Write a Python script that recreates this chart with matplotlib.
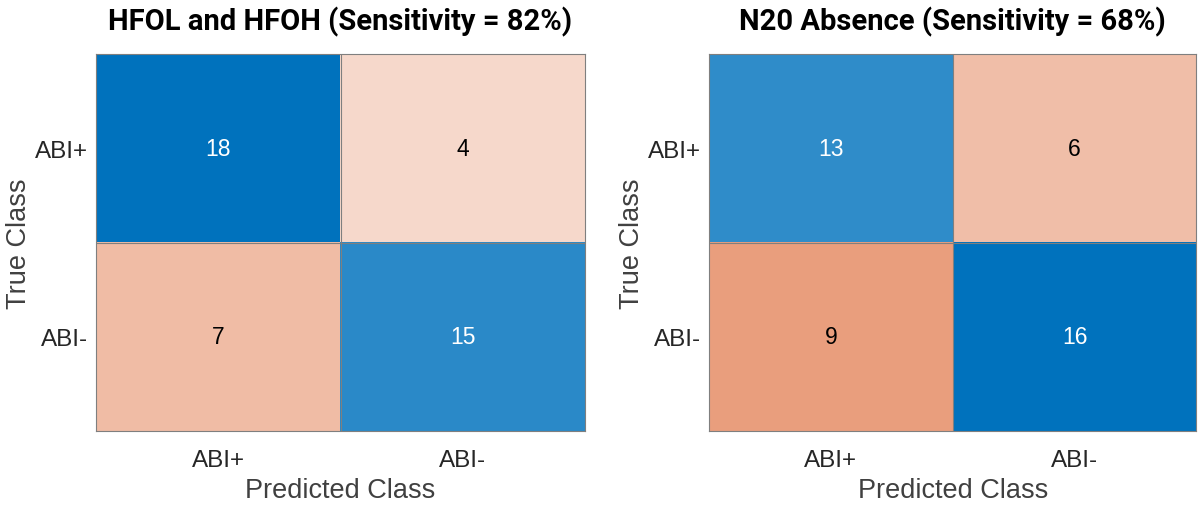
import numpy as np
import matplotlib.pyplot as plt

# data
class_labels = ["ABI+", "ABI-"]
titles = ["HFOL and HFOH (Sensitivity = 82%)", "N20 Absence (Sensitivity = 68%)"]
cm_hfo = [[18, 4],
          [7, 15]]
cm_n20 = [[13, 6],
          [9, 16]]

diag_rgb = np.array([0, 114, 189]) / 255.0
off_rgb = np.array([217, 83, 25]) / 255.0


def cell_colors(cm):
    cm = np.array(cm, dtype=float)
    t = cm / cm.max()
    img = np.zeros(cm.shape + (3,))
    for i in range(cm.shape[0]):
        for j in range(cm.shape[1]):
            base = diag_rgb if i == j else off_rgb
            img[i, j] = (1 - t[i, j]) * 1.0 + t[i, j] * base
    return img


def draw(ax, cm, title):
    cm = np.array(cm)
    img = cell_colors(cm)
    ax.imshow(img, aspect="auto", extent=(-0.5, 1.5, 1.5, -0.5))
    for i in range(cm.shape[0]):
        for j in range(cm.shape[1]):
            col = "white" if i == j else "black"
            ax.text(j, i, str(cm[i, j]), ha="center", va="center",
                    fontsize=16.5, color=col, family="Liberation Sans")
    # cell borders
    ax.axvline(0.5, color="#7f7f7f", lw=0.8)
    ax.axhline(0.5, color="#7f7f7f", lw=0.8)
    for s in ax.spines.values():
        s.set_color("#7f7f7f")
        s.set_linewidth(0.8)
    ax.set_xticks([0, 1])
    ax.set_yticks([0, 1])
    ax.set_xticklabels(class_labels, fontsize=17.5, family="Liberation Sans", color="#262626")
    ax.set_yticklabels(class_labels, fontsize=17.5, family="Liberation Sans", color="#262626")
    ax.tick_params(axis="x", length=0, pad=13)
    ax.tick_params(axis="y", length=0, pad=6)
    ax.set_xlabel("Predicted Class", fontsize=19.5, family="Liberation Sans", color="#404040", labelpad=4)
    ax.set_ylabel("True Class", fontsize=19.5, family="Liberation Sans", color="#404040", labelpad=2)
    ax.set_title(title, fontsize=21, fontweight="bold", family="Roboto", pad=18)


fig = plt.figure(figsize=(12, 5.06), dpi=100)
ax1 = fig.add_axes([0.08, 0.146, 0.4075, 0.745])
ax2 = fig.add_axes([0.591, 0.146, 0.406, 0.745])
draw(ax1, cm_hfo, titles[0])
draw(ax2, cm_n20, titles[1])

plt.savefig("out.png", dpi=100)
